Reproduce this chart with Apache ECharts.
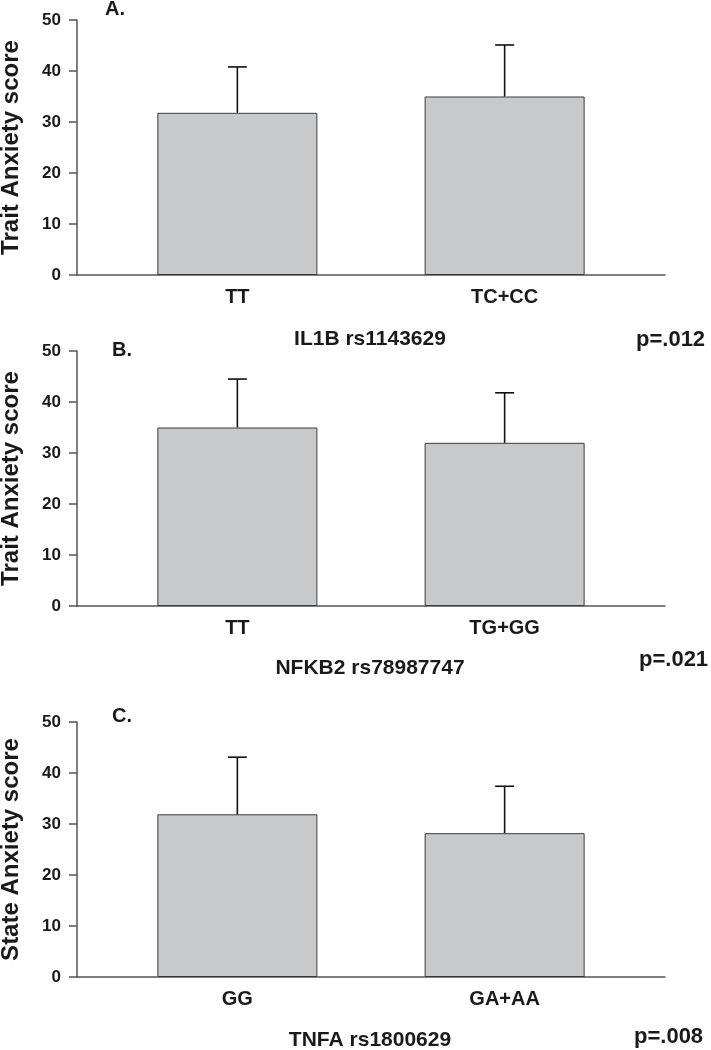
<!DOCTYPE html>
<html>
<head>
<meta charset="utf-8">
<script src="https://cdn.jsdelivr.net/npm/echarts@6/dist/echarts.min.js"></script>
<style>
html,body{margin:0;padding:0;background:#fff;}
#chart{width:711px;height:1050px;}
</style>
</head>
<body>
<div id="chart"></div>
<script>
// ---- Data ----
const categoriesA = ['TT', 'TC+CC'];
const meansA = [31.8, 35.0];
const errorsA = [9.0, 10.1];

const categoriesB = ['TT', 'TG+GG'];
const meansB = [35.0, 32.0];
const errorsB = [9.5, 9.8];

const categoriesC = ['GG', 'GA+AA'];
const meansC = [31.9, 28.2];
const errorsC = [11.2, 9.2];

const panelLabels = ['A.', 'B.', 'C.'];
const snpLabels = ['IL1B rs1143629', 'NFKB2 rs78987747', 'TNFA rs1800629'];
const pValues = ['p=.012', 'p=.021', 'p=.008'];
const yNames = ['Trait Anxiety score', 'Trait Anxiety score', 'State Anxiety score'];
const yTicks = [0, 10, 20, 30, 40, 50];

// ---- Build ----
const FONT = 'Liberation Sans, Arial, Helvetica, sans-serif';
const panels = [
  {cats: categoriesA, means: meansA, errs: errorsA},
  {cats: categoriesB, means: meansB, errs: errorsB},
  {cats: categoriesC, means: meansC, errs: errorsC}
];
const gridTops = [20, 351, 722];
const gridH = 255;

const grids = [], xAxes = [], yAxes = [], series = [];
panels.forEach((p, i) => {
  grids.push({left: 77, right: 46, top: gridTops[i], height: gridH, containLabel: false, outerBoundsMode: 'none'});
  xAxes.push({
    type: 'value', gridIndex: i, min: 0.4, max: 2.6,
    splitLine: {show: false},
    axisTick: {show: false},
    axisLine: {show: true, onZero: false, lineStyle: {color: '#555', width: 1.5}},
    axisLabel: {
      customValues: [1, 2],
      formatter: (v) => p.cats[Math.round(v) - 1] || '',
      margin: 12, fontSize: 20, fontWeight: 'bold', color: '#1a1a1a', fontFamily: FONT
    }
  });
  yAxes.push({
    type: 'value', gridIndex: i, min: yTicks[0], max: yTicks[yTicks.length - 1], interval: 10,
    splitLine: {show: false},
    axisLine: {show: true, lineStyle: {color: '#555', width: 1.5}},
    axisTick: {show: true, inside: false, length: 8, lineStyle: {color: '#555', width: 1.5}},
    axisLabel: {margin: 16, fontSize: 17, fontWeight: 'bold', color: '#1a1a1a', fontFamily: FONT},
    name: yNames[i], nameLocation: 'middle', nameRotate: 90, nameGap: 54,
    nameTextStyle: {fontSize: 24, fontWeight: 'bold', color: '#1a1a1a', fontFamily: FONT}
  });
  series.push({
    type: 'bar', xAxisIndex: i, yAxisIndex: i, barWidth: 160,
    itemStyle: {color: '#c8c9cb', borderColor: '#3a3a3a', borderWidth: 1},
    data: p.means.map((m, k) => [k + 1, m]),
    z: 2
  });
  series.push({
    type: 'custom', xAxisIndex: i, yAxisIndex: i,
    data: p.means.map((m, k) => [k + 1, m, m + p.errs[k]]),
    encode: {x: 0, y: [1, 2]},
    renderItem: (params, api) => {
      const x = api.value(0);
      const b = api.coord([x, api.value(1)]);
      const t = api.coord([x, api.value(2)]);
      const hw = 9.5;
      const style = {stroke: '#111', lineWidth: 1.6, fill: 'none'};
      return {
        type: 'group',
        children: [
          {type: 'line', shape: {x1: b[0], y1: b[1], x2: t[0], y2: t[1]}, style: style},
          {type: 'line', shape: {x1: t[0] - hw, y1: t[1], x2: t[0] + hw, y2: t[1]}, style: style}
        ]
      };
    },
    z: 3
  });
});

const textStyle = (extra) => Object.assign({fontWeight: 'bold', fill: '#1a1a1a', fontFamily: FONT}, extra);
const graphics = [];
const panelLabelPos = [[105, 9], [112, 350], [112, 716]];
const snpY = [339, 668, 1040];
const pPos = [[636, 340], [639, 660], [634, 1037]];
for (let i = 0; i < 3; i++) {
  graphics.push({type: 'text', style: textStyle({text: panelLabels[i], x: panelLabelPos[i][0], y: panelLabelPos[i][1], fontSize: 20, textVerticalAlign: 'middle'})});
  graphics.push({type: 'text', style: textStyle({text: snpLabels[i], x: 370, y: snpY[i], fontSize: 21, textAlign: 'center', textVerticalAlign: 'middle'})});
  graphics.push({type: 'text', style: textStyle({text: pValues[i], x: pPos[i][0], y: pPos[i][1], fontSize: 22, textVerticalAlign: 'middle'})});
}

const chart = echarts.init(document.getElementById('chart'), null, {renderer: 'canvas'});
chart.setOption({
  animation: false,
  backgroundColor: '#fff',
  grid: grids,
  xAxis: xAxes,
  yAxis: yAxes,
  series: series,
  graphic: graphics
});
</script>
</body>
</html>
